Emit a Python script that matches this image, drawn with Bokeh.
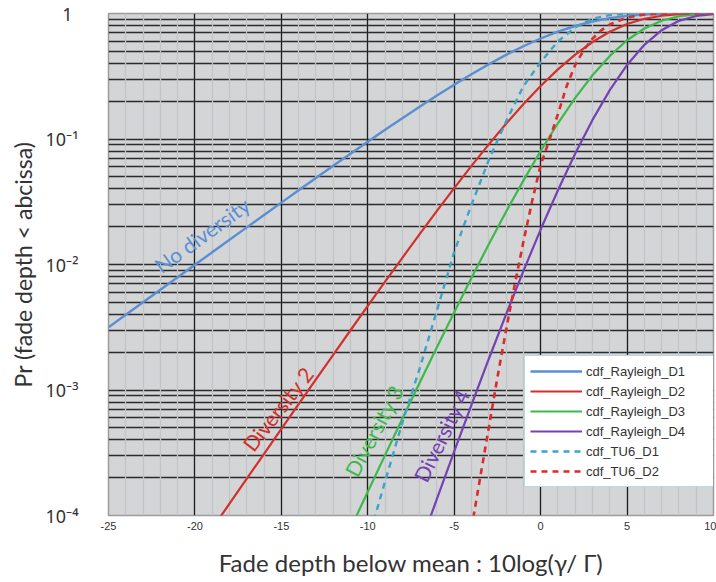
from bokeh.plotting import figure
from bokeh.models import (Range1d, FixedTicker, CustomJSTickFormatter, Legend,
                          LegendItem, ColumnDataSource)
from bokeh.embed import file_html
from bokeh.resources import INLINE

# ---------------- data ----------------
fade_db = [-25, -24, -23, -22, -21, -20, -19, -18, -17, -16, -15, -14, -13, -12,
           -11, -10, -9, -8, -7, -6, -5, -4, -3, -2, -1, 0, 1, 2, 3, 4, 5, 6, 7,
           8, 9, 10]

cdf_rayleigh_d1 = [0.003157, 0.003973, 0.004999, 0.006290, 0.007912, 0.00995,
                   0.01251, 0.01572, 0.01976, 0.02481, 0.03113, 0.03903, 0.04888,
                   0.06115, 0.07636, 0.09516, 0.1183, 0.1466, 0.1809, 0.2221,
                   0.2711, 0.3284, 0.3942, 0.4679, 0.5481, 0.6321, 0.7161,
                   0.7951, 0.8640, 0.9189, 0.9577, 0.9813, 0.9933, 0.9982,
                   0.99965, 0.99995]

cdf_rayleigh_d2 = [5.0e-6, 7.9e-6, 1.25e-5, 1.98e-5, 3.14e-5, 4.97e-5, 7.86e-5,
                   1.243e-4, 1.964e-4, 3.102e-4, 4.896e-4, 7.717e-4, 1.2147e-3,
                   1.9088e-3, 2.9927e-3, 4.679e-3, 7.290e-3, 1.1307e-2, 1.7454e-2,
                   2.6738e-2, 4.0611e-2, 6.102e-2, 9.0564e-2, 0.132197, 0.189142,
                   0.264241, 0.358504, 0.470185, 0.592710, 0.715165, 0.823815,
                   0.907028, 0.959997, 0.986711, 0.996825, 0.999501]

cdf_rayleigh_d3 = [5.3e-9, 1.05e-8, 2.1e-8, 4.2e-8, 8.35e-8, 1.67e-7, 3.3e-7,
                   6.6e-7, 1.32e-6, 2.64e-6, 5.25e-6, 1.04e-5, 2.07e-5, 4.13e-5,
                   7.87e-5, 1.5467e-4, 3.0273e-4, 5.894e-4, 1.1407e-3, 2.1905e-3,
                   4.1653e-3, 7.8253e-3, 1.4478e-2, 2.6284e-2, 4.6576e-2,
                   8.0301e-2, 0.133465, 0.212759, 0.322041, 0.459293, 0.612170,
                   0.759118, 0.876345, 0.950502, 0.985624, 0.997231]

cdf_rayleigh_d4 = [4.2e-12, 1.05e-11, 2.6e-11, 6.6e-11, 1.66e-10, 4.17e-10,
                   1.05e-9, 2.6e-9, 6.6e-9, 1.65e-8, 4.14e-8, 1.04e-7, 2.6e-7,
                   6.5e-7, 1.63e-6, 4.1e-6, 1.02e-5, 2.55e-5, 5.6325e-5,
                   1.3579e-4, 3.2397e-4, 7.628e-4, 1.7667e-3, 4.0083e-3,
                   8.8644e-3, 1.8988e-2, 3.9029e-2, 7.6762e-2, 0.142023,
                   0.245052, 0.389077, 0.562814, 0.736638, 0.874358, 0.955967,
                   0.989664]

tu6_d1_db = [-10, -9, -8, -7, -6, -5, -4, -3, -2, -1, 0, 1, 2, 3, 4, 5, 6, 8, 10]
cdf_tu6_d1 = [6.2e-5, 1.87e-4, 5.5e-4, 1.48e-3, 4.3e-3, 1.26e-2, 3.0e-2, 6.8e-2,
              0.138, 0.263, 0.41, 0.60, 0.776, 0.91, 0.97, 0.993, 0.999, 1.0, 1.0]

tu6_d2_db = [-4, -3.5, -3, -2.5, -2, -1.5, -1, -0.5, 0, 0.5, 1, 1.5, 2, 2.5, 3,
             3.5, 4, 5, 6, 7, 8, 10]
cdf_tu6_d2 = [7.9e-5, 2.0e-4, 5.0e-4, 1.26e-3, 3.0e-3, 6.9e-3, 1.51e-2, 3.16e-2,
              6.2e-2, 9.8e-2, 0.158, 0.263, 0.389, 0.513, 0.631, 0.733, 0.817,
              0.929, 0.982, 0.9966, 0.9993, 1.0]

series_names = ["cdf_Rayleigh_D1", "cdf_Rayleigh_D2", "cdf_Rayleigh_D3",
                "cdf_Rayleigh_D4", "cdf_TU6_D1", "cdf_TU6_D2"]

x_tick_values = [-25, -20, -15, -10, -5, 0, 5, 10]
x_minor_values = list(range(-25, 11))
y_tick_values = [1e-4, 1e-3, 1e-2, 1e-1, 1]
y_tick_labels = ["10\u207b\u2074", "10\u207b\u00b3", "10\u207b\u00b2",
                 "10\u207b\u00b9", "1\u2009\u2009"]

annot_text = ["No diversity", "Diversity 2", "Diversity 3", "Diversity 4"]
annot_db = [-19.6, -15.2, -9.65, -5.75]
annot_pr = [0.0172, 7.1e-4, 4.75e-4, 4.35e-4]
annot_angle = [36, 52, 62, 64]

# ---------------- styling ----------------
BLUE = "#5b8fd3"
RED = "#d3302c"
GREEN = "#3cb94a"
PURPLE = "#7542b3"
CYAN = "#3aa5c9"
RED_D = "#dd2a2a"
annot_color = [BLUE, RED, GREEN, PURPLE]

p = figure(width=716, height=582, x_range=Range1d(-25, 10),
           y_range=Range1d(1e-4, 1), y_axis_type="log",
           output_backend="svg", toolbar_location=None,
           min_border_left=108, min_border_right=3, min_border_top=13,
           min_border_bottom=67)

p.background_fill_color = "#d4d5d7"
p.border_fill_color = "white"
p.outline_line_color = "#9c9c9c"
p.outline_line_width = 1.5

xt = FixedTicker(ticks=x_tick_values, minor_ticks=x_minor_values)
y_minor = [m * d for d in y_tick_values[:-1] for m in range(2, 10)]
yt = FixedTicker(ticks=y_tick_values, minor_ticks=y_minor)

p.xaxis.ticker = xt
p.yaxis.ticker = yt
p.xgrid.ticker = xt
p.ygrid.ticker = yt

p.xgrid.grid_line_color = "#1e1e1e"
p.xgrid.grid_line_width = 1.3
p.xgrid.minor_grid_line_color = "#c3c4c6"
p.xgrid.minor_grid_line_width = 1.3
p.ygrid.grid_line_color = "#2b2b2b"
p.ygrid.grid_line_width = 1.3
p.ygrid.minor_grid_line_color = "#2b2b2b"
p.ygrid.minor_grid_line_width = 1.3

xg = p.xgrid[0]
yg = p.ygrid[0]
others = [r for r in p.center if r is not xg and r is not yg]
p.center = [yg, xg] + others

p.xaxis.formatter = CustomJSTickFormatter(code="return tick.toFixed(0);")
p.yaxis.formatter = CustomJSTickFormatter(
    args=dict(labels=y_tick_labels),
    code="const e = Math.round(Math.log10(tick)); return labels[e + 4];")

for ax in (p.xaxis[0], p.yaxis[0]):
    ax.axis_line_color = None
    ax.major_tick_line_color = None
    ax.minor_tick_line_color = None
    ax.axis_label_text_font = "Lato"
    ax.axis_label_text_font_style = "normal"
    ax.axis_label_text_color = "#333333"

p.xaxis.major_label_text_font = "Liberation Sans"
p.xaxis.major_label_text_font_size = "11px"
p.xaxis.major_label_text_color = "#333333"
p.xaxis.major_label_standoff = 0
p.xaxis.axis_label = "Fade depth below mean : 10log(\u03b3/ \u0393)"
p.xaxis.axis_label_text_font_size = "24px"
p.xaxis.axis_label_standoff = 15

p.yaxis.major_label_text_font = "Noto Sans"
p.yaxis.major_label_text_font_size = "18px"
p.yaxis.major_label_text_color = "#333333"
p.yaxis.major_label_standoff = 24
p.yaxis.axis_label = "Pr (fade depth < abcissa)"
p.yaxis.axis_label_text_font_size = "23px"
p.yaxis.axis_label_standoff = 6

r1 = p.line(fade_db, cdf_rayleigh_d1, line_color=BLUE, line_width=2.4)
r2 = p.line(fade_db, cdf_rayleigh_d2, line_color=RED, line_width=2.2)
r3 = p.line(fade_db, cdf_rayleigh_d3, line_color=GREEN, line_width=2.2)
r4 = p.line(fade_db, cdf_rayleigh_d4, line_color=PURPLE, line_width=2.2)
r5 = p.line(tu6_d1_db, cdf_tu6_d1, line_color=CYAN, line_width=2.4,
            line_dash="6 5")
r6 = p.line(tu6_d2_db, cdf_tu6_d2, line_color=RED_D, line_width=2.6,
            line_dash="6 5")

src = ColumnDataSource(dict(x=annot_db, y=annot_pr, text=annot_text,
                            angle=annot_angle, color=annot_color))
p.text(x="x", y="y", text="text", angle="angle", angle_units="deg",
       text_color="color", text_font={"value": "Lato"},
       text_font_size="21px", text_align="center", text_baseline="middle",
       source=src)

legend = Legend(items=[LegendItem(label=n, renderers=[r])
                       for n, r in zip(series_names, [r1, r2, r3, r4, r5, r6])],
                location=(416, 28))
legend.label_text_font = "Liberation Sans"
legend.label_text_font_size = "13px"
legend.label_text_color = "#333333"
legend.label_height = 20
legend.glyph_height = 20
legend.glyph_width = 52
legend.label_width = 126
legend.label_standoff = 4
legend.spacing = 0
legend.padding = 5
legend.margin = 0
legend.border_line_color = "#68b5d3"
legend.border_line_width = 1.5
legend.background_fill_color = "white"
legend.background_fill_alpha = 1.0
p.add_layout(legend)

open("out.html", "w").write(file_html(p, INLINE))
